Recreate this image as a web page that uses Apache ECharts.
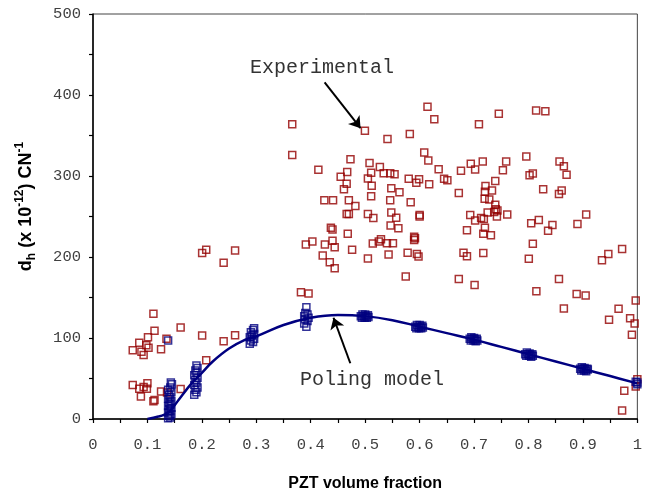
<!DOCTYPE html>
<html>
<head>
<meta charset="utf-8">
<script src="https://cdn.jsdelivr.net/npm/echarts@6/dist/echarts.min.js"></script>
<style>
html,body{margin:0;padding:0;background:#fff;}
#chart{width:645px;height:497px;}
</style>
</head>
<body>
<div id="chart"></div>
<script>
// Experimental data (PZT volume fraction, d_h)
const experimental = [
 [0.208,209],[0.2005,205],[0.261,208],[0.240,193],[0.111,130],[0.113,109],[0.161,113],[0.101,101],
 [0.085,94],[0.098,91],[0.102,88],[0.073,85],[0.089,83],[0.093,79],[0.125,86],[0.135,99],
 [0.2005,103],[0.240,96],[0.261,103.5],[0.208,72.5],[0.073,42],[0.085,37.5],[0.093,39.5],[0.100,44],
 [0.099,37.5],[0.088,27.7],[0.111,22],[0.113,23.6],[0.125,34],[0.136,32.6],[0.161,37],
 [0.366,364],[0.366,326],[0.4995,356],[0.473,320.7],[0.508,316],[0.511,304],[0.505,297],[0.512,288],
 [0.511,275],[0.414,307.6],[0.467,305],[0.455,299],[0.466,290.5],[0.461,283.6],[0.425,270],[0.441,270],
 [0.470,270],[0.482,263],[0.466,253],[0.470,253],[0.505,253],[0.515,248],[0.437,236],[0.440,234],
 [0.468,228.6],[0.440,220],[0.391,215.5],[0.403,219],[0.426,215.5],[0.444,212],[0.476,209],[0.514,216.7],
 [0.422,201.7],[0.435,193.5],[0.444,186],[0.505,198],[0.382,156.5],[0.396,155],
 [0.6145,385.5],[0.627,370],[0.541,345.6],[0.582,352],[0.709,364],[0.7455,377],[0.814,381],[0.831,380],
 [0.6085,329],[0.616,319],[0.527,311],[0.534,303.5],[0.546,303.5],[0.554,302.3],[0.580,296.7],[0.594,291.8],
 [0.599,296],[0.6176,289.7],[0.635,308.4],[0.645,296.7],[0.651,294.6],[0.676,306.5],[0.694,315],[0.702,308],
 [0.716,317.8],[0.759,318],[0.753,307],[0.739,293.8],[0.796,324],[0.857,317.8],[0.865,312],[0.870,301.6],
 [0.802,301],[0.808,303],[0.672,279],[0.721,287.7],[0.733,282],[0.720,280.7],[0.7195,272],[0.728,271],
 [0.739,264.4],[0.740,259],[0.743,257.5],[0.737,255.5],[0.725,255],[0.742,250],[0.761,252.6],[0.693,252],
 [0.702,245],[0.713,248],[0.718,247],[0.720,236],[0.717,228.6],[0.731,227],[0.687,233],[0.827,283.6],
 [0.856,277.9],[0.861,282],[0.805,241.7],[0.819,245.7],[0.836,232.3],[0.844,239.6],[0.890,240.8],[0.906,252.6],
 [0.808,216.4],[0.8006,197.7],[0.6806,205.4],[0.687,201],[0.717,205],[0.672,172.7],[0.701,165.4],[0.5745,176],
 [0.8145,157.7],[0.856,172.7],[0.8885,154.4],[0.905,152.4],[0.935,196],[0.9467,203.8],[0.972,210],
 [0.548,285],[0.563,280],[0.546,270],[0.5836,267.7],[0.548,255],[0.557,248.6],[0.600,252],[0.600,250],
 [0.5467,238.8],[0.561,235.6],[0.590,225],[0.5915,223],[0.590,221],[0.529,222],[0.525,219],[0.540,217],
 [0.551,217],[0.543,203],[0.578,205.4],[0.595,203.8],[0.598,200.5],
 [0.997,146.3],[0.9655,136],[0.948,122.6],[0.9867,124.3],[0.995,118],[0.990,104],[0.865,136.5],
 [0.976,35],[0.972,10.6],[1.000,49],[0.997,40]
];

// Poling model data points
const modelPoints = [
 [0.138,1],[0.142,2],[0.140,4],[0.144,6],[0.138,8],[0.142,10],[0.140,12],[0.144,14],[0.138,16],[0.142,18],
 [0.140,20],[0.144,22],[0.138,25],[0.142,27],[0.140,30],[0.144,33],[0.138,36],[0.142,39],[0.145,43],[0.143,45],
 [0.138,97],
 [0.186,30],[0.190,33],[0.188,36],[0.192,39],[0.186,42],[0.190,45],[0.188,48],[0.192,51],[0.186,54],[0.190,57],
 [0.188,60],[0.192,63],[0.190,66],
 [0.288,93],[0.294,95],[0.290,97],[0.296,99],[0.288,101],[0.292,103],[0.296,105],[0.290,107],[0.294,110],[0.296,112],
 [0.392,114],[0.388,118],[0.394,121],[0.390,123],[0.396,125],[0.388,127],[0.394,129],[0.390,131],[0.392,138],
 [0.492,127],[0.494,125],[0.495,129],[0.497,127],[0.499,125],[0.500,129],[0.502,127],[0.503,125],[0.505,128],[0.506,126],
 [0.592,114],[0.594,112],[0.595,116],[0.597,114],[0.599,112],[0.600,116],[0.602,114],[0.603,112],[0.605,115],[0.606,113],
 [0.692,99],[0.694,97],[0.695,101],[0.697,99],[0.699,97],[0.700,100],[0.702,98],[0.703,96],[0.705,99],[0.706,97],
 [0.794,80],[0.796,78],[0.797,82],[0.799,80],[0.801,78],[0.802,81],[0.804,79],[0.805,77],[0.807,80],[0.808,78],
 [0.895,62],[0.897,60],[0.898,64],[0.900,62],[0.902,60],[0.903,63],[0.905,61],[0.906,59],[0.908,62],[0.909,61],
 [0.997,46],[1.000,43],[1.000,45]
];

// Poling model curve
const curveX = [0.10,0.12,0.13,0.14,0.15,0.16,0.18,0.20,0.22,0.25,0.28,0.30,0.35,0.40,0.45,0.50,0.55,0.60,0.65,0.70,0.75,0.80,0.85,0.90,0.95,1.00];
const curveY = [0,3,5,9,17,26,43,57,71,87,98,102,116,125,128.5,127,122,114,106,98,89,80,71,62,53,44];

const xTicks = ['0','0.1','0.2','0.3','0.4','0.5','0.6','0.7','0.8','0.9','1'];
const yTicks = ['0','100','200','300','400','500'];

const chart = echarts.init(document.getElementById('chart'), null, {renderer:'canvas'});
const mono = '"Liberation Mono","Courier New",monospace';
const sans = '"Liberation Sans",Arial,sans-serif';

chart.setOption({
  animation:false,
  grid:{left:93, top:14, width:550, height:409, show:true, borderColor:'#444', borderWidth:1, backgroundColor:'transparent'},
  xAxis:{
    type:'value', min:0, max:1, interval:0.1,
    axisLine:{show:true, onZero:false, lineStyle:{color:'#000', width:1.5}},
    axisTick:{show:true, length:4, lineStyle:{color:'#000', width:1.2}},
    minorTick:{show:true, splitNumber:2, length:4, lineStyle:{color:'#000', width:1.2}},
    splitLine:{show:false},
    axisLabel:{margin:18, fontFamily:mono, fontSize:15.5, color:'#404040',
      formatter:(v)=>{const i=Math.round(v*10); return xTicks[i];}},
    name:'PZT volume fraction', nameLocation:'middle', nameGap:57,
    nameTextStyle:{fontFamily:sans, fontWeight:'bold', fontSize:16, color:'#000'}
  },
  yAxis:{
    type:'value', min:0, max:500, interval:100,
    axisLine:{show:true, onZero:false, lineStyle:{color:'#000', width:1.5}},
    axisTick:{show:true, length:4, lineStyle:{color:'#000', width:1.2}},
    minorTick:{show:true, splitNumber:2, length:4, lineStyle:{color:'#000', width:1.2}},
    splitLine:{show:false},
    axisLabel:{margin:12, fontFamily:mono, fontSize:15.5, color:'#404040',
      formatter:(v)=>yTicks[Math.round(v/100)]},
    name:'{b|d}{sub|h}{b| (x 10}{sup|-12}{b|) CN}{sup|-1}', nameLocation:'middle', nameGap:55, nameRotate:90,
    nameTextStyle:{
      padding:[0,0,0,20],
      rich:{
        b:{fontFamily:sans, fontWeight:'bold', fontSize:18, color:'#000', lineHeight:24, verticalAlign:'middle'},
        sub:{fontFamily:sans, fontWeight:'bold', fontSize:12, color:'#000', lineHeight:12, verticalAlign:'bottom'},
        sup:{fontFamily:sans, fontWeight:'bold', fontSize:12, color:'#000', lineHeight:12, verticalAlign:'top'}
      }
    }
  },
  series:[
    {
      type:'scatter', name:'Experimental', data:experimental, symbol:'rect', symbolSize:7,
      itemStyle:{color:'rgba(0,0,0,0)', borderColor:'#940000', borderWidth:1.5}, silent:true
    },
    {
      type:'scatter', name:'Model points', data:modelPoints, symbol:'rect', symbolSize:7,
      itemStyle:{color:'rgba(0,0,0,0)', borderColor:'#000080', borderWidth:1.5}, silent:true
    },
    {
      type:'line', name:'Poling model', data:curveX.map((x,i)=>[x,curveY[i]]), smooth:0.4,
      showSymbol:false, symbol:'none', lineStyle:{color:'#000080', width:2.5}, silent:true,
      markLine:{
        silent:true, symbol:['none','arrow'], symbolSize:11,
        label:{show:false},
        lineStyle:{color:'#000', width:2, type:'solid'},
        data:[
          [{coord:[0.4255,415.6]},{coord:[0.4915,359]}],
          [{coord:[0.4727,68.8]},{coord:[0.4418,125]}]
        ]
      }
    }
  ],
  graphic:[
    {type:'text', left:250, top:58, style:{text:'Experimental', font:'20px ' + mono, fill:'#333'}},
    {type:'text', left:300, top:370, style:{text:'Poling model', font:'20px ' + mono, fill:'#333'}}
  ]
});
</script>
</body>
</html>
